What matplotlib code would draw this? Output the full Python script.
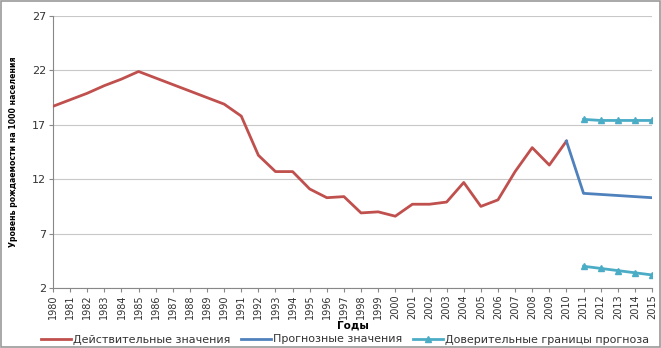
import matplotlib
matplotlib.use("Agg")
import matplotlib.pyplot as plt

years = list(range(1980, 2016))
actual_years = list(range(1980, 2011))
actual = [18.7, 19.3, 19.9, 20.6, 21.2, 21.9, 21.3, 20.7, 20.1, 19.5, 18.9, 17.8,
          14.2, 12.7, 12.7, 11.1, 10.3, 10.4, 8.9, 9.0, 8.6, 9.7, 9.7, 9.9, 11.7,
          9.5, 10.1, 12.7, 14.9, 13.3, 15.5]
forecast_years = [2010, 2011, 2012, 2013, 2014, 2015]
forecast = [15.5, 10.7, 10.6, 10.5, 10.4, 10.3]
bound_years = [2011, 2012, 2013, 2014, 2015]
upper = [17.5, 17.4, 17.4, 17.4, 17.4]
lower = [4.0, 3.8, 3.6, 3.4, 3.2]
yticks = [2, 7, 12, 17, 22, 27]

fig = plt.figure(figsize=(6.61, 3.48), dpi=100)
ax = fig.add_axes([53/661, 1-288/348, (652-53)/661, (288-16)/348])

red = '#c0504d'
blue = '#4f81bd'
teal = '#4bacc6'
ax.plot(actual_years, actual, color=red, lw=2, label='Действительные значения', zorder=3)
ax.plot(forecast_years, forecast, color=blue, lw=2, label='Прогнозные значения', zorder=3)
ax.plot(bound_years, upper, color=teal, lw=2, marker='^', ms=5, label='Доверительные границы прогноза', zorder=3)
ax.plot(bound_years, lower, color=teal, lw=2, marker='^', ms=5, zorder=3)

ax.set_xlim(1980, 2015)
ax.set_ylim(2, 27)
ax.set_yticks(yticks)
ax.set_xticks(years)
ax.set_xticklabels([str(y) for y in years], rotation=90, fontsize=7)
for lbl in ax.get_yticklabels():
    lbl.set_fontsize(8)
ax.tick_params(axis='y', length=3, color='#888888', pad=2, labelcolor='#333333')
ax.tick_params(axis='x', length=3, color='#888888', pad=1.5, labelcolor='#333333')
ax.grid(axis='y', color='#c8c8c8', lw=0.8)
ax.set_axisbelow(True)
for s in ['top', 'right']:
    ax.spines[s].set_visible(False)
ax.spines['left'].set_color('#888888')
ax.spines['bottom'].set_color('#888888')

ax.set_ylabel('Уровень рождаемости на 1000 населения', fontsize=5.6,
              fontweight='bold', labelpad=10)
ax.set_xlabel('Годы', fontsize=7.5, fontweight='bold')
ax.xaxis.set_label_coords(0.5, -(325-288)/272, transform=ax.transAxes)
ax.xaxis.label.set_va('center')

leg = fig.legend(loc='center', bbox_to_anchor=(345/661, 1-339.5/348), ncol=3, frameon=False,
                 fontsize=8, handlelength=2.7, columnspacing=1.0, handletextpad=0.15,
                 labelcolor='#333333')

fig.patches.append(plt.Rectangle((0.002, 0.003), 0.996, 0.994, transform=fig.transFigure,
                                 fill=False, edgecolor='#999999', lw=1.2))
fig.savefig('out.png', dpi=100)
